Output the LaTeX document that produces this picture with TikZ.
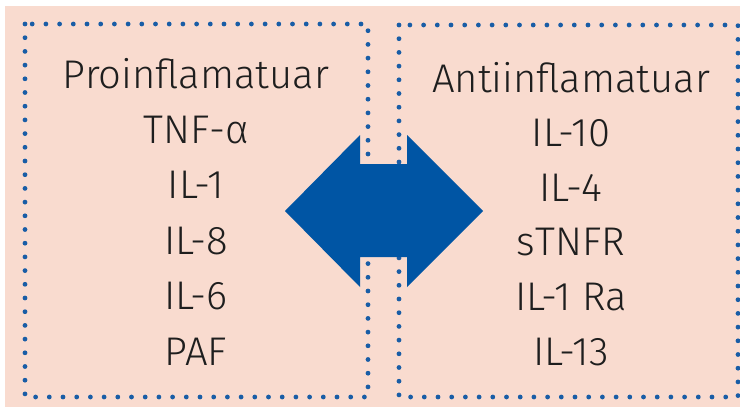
\documentclass[tikz,border=0pt]{standalone}
\usepackage{fontspec}
\setmainfont{Fira Sans Light}
\definecolor{panel}{HTML}{F9DBCF}
\definecolor{dotblue}{HTML}{195DA6}
\definecolor{arrowblue}{HTML}{0055A4}
\definecolor{ink}{HTML}{1E1E1E}
\tikzset{
  dotbox/.style={draw=dotblue, line width=4.8pt, line cap=round,
    dash pattern=on 0pt off 13.7pt},
  entry/.style={anchor=base, inner sep=0pt, text=ink,
    font=\fontsize{40}{48}\selectfont}
}
\begin{document}
\begin{tikzpicture}[x=1pt,y=-1pt]
  \useasboundingbox (0,0) rectangle (740,407);
  \fill[white] (0,0) rectangle (740,407);
  \fill[panel] (5,6) rectangle (740,407);

  % the two dotted frames
  \draw[dotbox] (25,24) rectangle (368,397);
  \draw[dotbox] (399,25) rectangle (738,397);

  % double-headed block arrow between the frames
  \fill[arrowblue] (285,211) -- (360,135) -- (360,164) -- (407,164)
    -- (407,135) -- (483,211) -- (407,287) -- (407,257) -- (360,257)
    -- (360,287) -- cycle;

  % left column
  \foreach \t [count=\i from 0] in {Proinflamatuar,TNF-α,IL-1,IL-8,IL-6,PAF}
    \node[entry] (l\i) at (196,{88+55.4*\i}) {\t};
  % right column
  \foreach \t [count=\i from 0] in {Antiinflamatuar,IL-10,IL-4,sTNFR,IL-1 Ra,IL-13}
    \node[entry] (r\i) at (571,{92+54.6*\i}) {\t};
\end{tikzpicture}
\end{document}
